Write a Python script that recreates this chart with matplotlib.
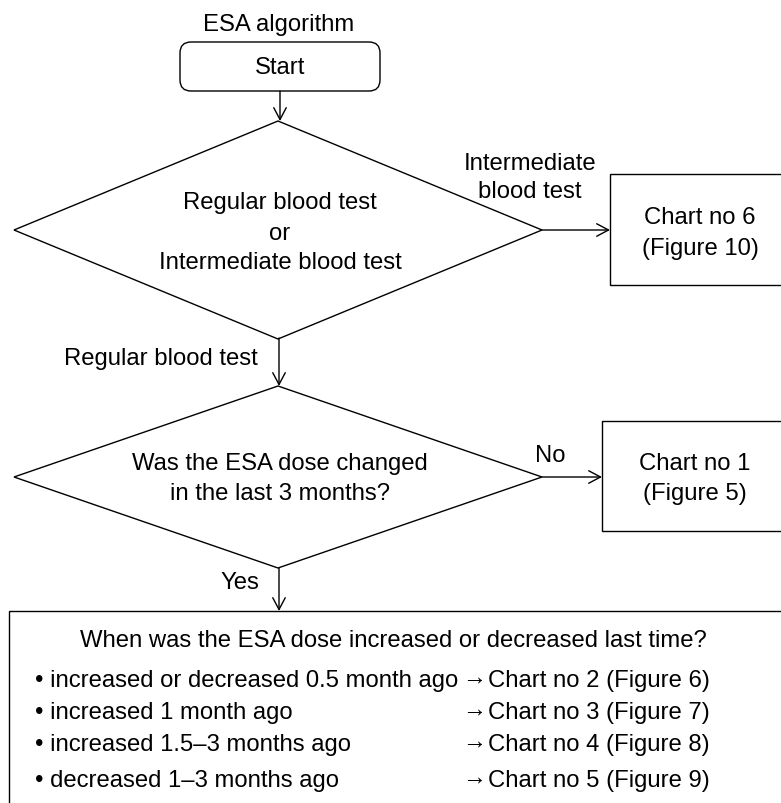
import matplotlib.pyplot as plt
from matplotlib.patches import FancyBboxPatch, Polygon, Rectangle

# Flowchart text content
title = "ESA algorithm"
start_label = "Start"
decision1_lines = ["Regular blood test", "or", "Intermediate blood test"]
decision1_side = ["Intermediate", "blood test"]
decision1_down = "Regular blood test"
chart6_lines = ["Chart no 6", "(Figure 10)"]
decision2_lines = ["Was the ESA dose changed", "in the last 3 months?"]
decision2_side = "No"
decision2_down = "Yes"
chart1_lines = ["Chart no 1", "(Figure 5)"]
final_question = "When was the ESA dose increased or decreased last time?"
final_cases = [
    "\u2022 increased or decreased 0.5 month ago",
    "\u2022 increased 1 month ago",
    "\u2022 increased 1.5\u20133 months ago",
    "\u2022 decreased 1\u20133 months ago",
]
final_targets = [
    "Chart no 2 (Figure 6)",
    "Chart no 3 (Figure 7)",
    "Chart no 4 (Figure 8)",
    "Chart no 5 (Figure 9)",
]

W, H = 781, 804
FS = 17.2
FONT = ["Liberation Sans", "DejaVu Sans"]
LW = 1.0
DY = 2.5  # matplotlib centres on ascent+descent, nudge glyphs down a bit

plt.rcParams["font.family"] = FONT

fig = plt.figure(figsize=(W / 100, H / 100), dpi=100)
ax = fig.add_axes([0, 0, 1, 1])
ax.set_xlim(0, W)
ax.set_ylim(H, 0)
ax.axis("off")


def txt(x, y, s, ha="center", **kw):
    kw.setdefault("fontsize", FS)
    ax.text(x, y + DY, s, ha=ha, va="center", color="black", **kw)


def lines(x, y0, items, step=30):
    for i, s in enumerate(items):
        txt(x, y0 + i * step, s)


def arrow(x0, y0, x1, y1):
    ax.annotate("", xy=(x1, y1), xytext=(x0, y0),
                arrowprops=dict(arrowstyle="->,head_length=0.85,head_width=0.45",
                                lw=LW, color="black", shrinkA=0, shrinkB=0))


def diamond(cx, cy, half_w, half_h):
    pts = [(cx, cy - half_h), (cx + half_w, cy), (cx, cy + half_h), (cx - half_w, cy)]
    ax.add_patch(Polygon(pts, closed=True, fill=False, lw=LW, ec="black"))


# title + start
txt(279, 22, title)
ax.add_patch(FancyBboxPatch((180, 43), 200, 49,
                            boxstyle="round,pad=0,rounding_size=11",
                            fill=False, lw=LW, ec="black"))
txt(280, 66, start_label)
arrow(280, 92, 280, 122)

# first decision
diamond(278, 231, 264, 109)
lines(280, 201, decision1_lines)
lines(530, 161, decision1_side, step=28)
arrow(542, 231, 610, 231)
ax.add_patch(Rectangle((610, 175), 180, 111, fill=False, lw=LW, ec="black"))
lines(700, 216, chart6_lines)

txt(258, 357, decision1_down, ha="right")
arrow(279, 339, 279, 387)

# second decision
diamond(278, 478, 264, 91)
lines(280, 462, decision2_lines)
txt(550, 454, decision2_side)
arrow(542, 478, 602, 478)
ax.add_patch(Rectangle((602, 422), 190, 110, fill=False, lw=LW, ec="black"))
lines(695, 462, chart1_lines)

txt(240, 581, decision2_down)
arrow(279, 569, 279, 612)

# final box
ax.add_patch(Rectangle((9, 612), 790, 210, fill=False, lw=LW, ec="black"))
txt(393, 639, final_question)
case_y = [679, 711, 743, 779]
for i, (case, target) in enumerate(zip(final_cases, final_targets)):
    txt(35, case_y[i], case, ha="left")
    # Liberation's arrow sits near the baseline; lift it to mid x-height
    txt(462, case_y[i] - 4, "\u2192", ha="left")
    txt(488, case_y[i], target, ha="left")

fig.savefig("out.png", dpi=100)
